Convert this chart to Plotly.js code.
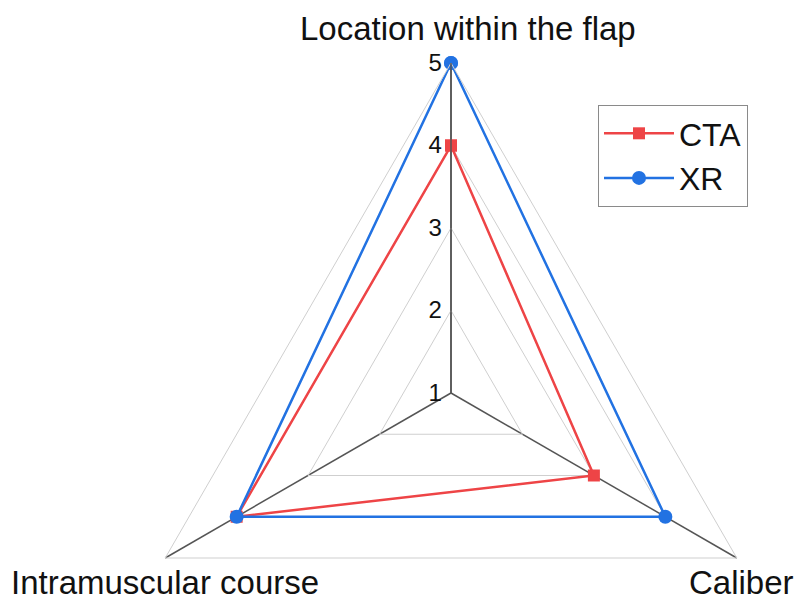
<!DOCTYPE html>
<html>
<head>
<meta charset="utf-8">
<script src="https://cdn.plot.ly/plotly-3.0.1.min.js"></script>
<style>
  html, body { margin: 0; padding: 0; overflow: hidden; background: #fff; }
  #chart { width: 796px; height: 740px; }
</style>
</head>
<body>
<div id="chart"></div>
<script>
// Radar chart comparing CTA and XR ratings on three criteria
const categories = ['Location within the flap', 'Caliber', 'Intramuscular course'];
const ctaValues = [4, 3, 4];
const xrValues = [5, 4, 4];
const radialTicks = [1, 2, 3, 4, 5];

// close each polygon by repeating the first point
const closeLoop = arr => arr.concat([arr[0]]);

const FONT = '"Liberation Sans", Arial, sans-serif';

const traces = [
  {
    type: 'scatterpolar',
    name: 'CTA',
    r: closeLoop(ctaValues),
    theta: closeLoop(categories),
    mode: 'lines+markers',
    line: { color: '#EE4446', width: 2.5 },
    marker: { symbol: 'square', size: 12, color: '#EE4446' },
    cliponaxis: false
  },
  {
    type: 'scatterpolar',
    name: 'XR',
    r: closeLoop(xrValues),
    theta: closeLoop(categories),
    mode: 'lines+markers',
    line: { color: '#2272E2', width: 2.5 },
    marker: { symbol: 'circle', size: 14, color: '#2272E2' },
    cliponaxis: false
  }
];

const W = 796, H = 740;
const L = 121, T = 63, SIDE = 660;

// paper coordinates from pixel positions
const px = x => (x - L) / SIDE;
const py = y => (T + SIDE - y) / SIDE;

const layout = {
  width: W,
  height: H,
  autosize: false,
  margin: { l: L, r: W - L - SIDE, t: T, b: H - T - SIDE, pad: 0 },
  paper_bgcolor: '#fff',
  plot_bgcolor: '#fff',
  font: { family: FONT, color: '#111' },
  showlegend: true,
  legend: {
    x: px(598), y: py(105), xanchor: 'left', yanchor: 'top',
    bordercolor: '#8a8a8a', borderwidth: 1, bgcolor: '#fff',
    font: { size: 32, family: FONT, color: '#111' },
    itemwidth: 70,
    tracegroupgap: 0
  },
  polar: {
    domain: { x: [0, 1], y: [0, 1] },
    bgcolor: '#fff',
    gridshape: 'linear',
    radialaxis: {
      range: [1, 5],
      tickvals: radialTicks,
      ticktext: radialTicks.map(String),
      angle: 90,
      side: 'counterclockwise',
      tickangle: 90,
      ticks: '',
      showline: true,
      linecolor: '#555',
      linewidth: 1.5,
      gridcolor: '#cfcfcf',
      gridwidth: 1,
      tickfont: { size: 24, family: FONT, color: '#111' }
    },
    angularaxis: {
      rotation: 90,
      direction: 'clockwise',
      showticklabels: false,
      ticks: '',
      showline: true,
      linecolor: '#cfcfcf',
      linewidth: 1,
      gridcolor: '#555',
      gridwidth: 1.5
    }
  },
  annotations: [
    { text: categories[0], x: px(468), y: py(28) },
    { text: categories[1], x: px(741), y: py(582) },
    { text: categories[2], x: px(165), y: py(582) }
  ].map(a => Object.assign({
    xref: 'paper', yref: 'paper', xanchor: 'center', yanchor: 'middle',
    showarrow: false, font: { size: 33, family: FONT, color: '#111' }
  }, a))
};

Plotly.newPlot('chart', traces, layout, { displayModeBar: false, staticPlot: true });
</script>
</body>
</html>
